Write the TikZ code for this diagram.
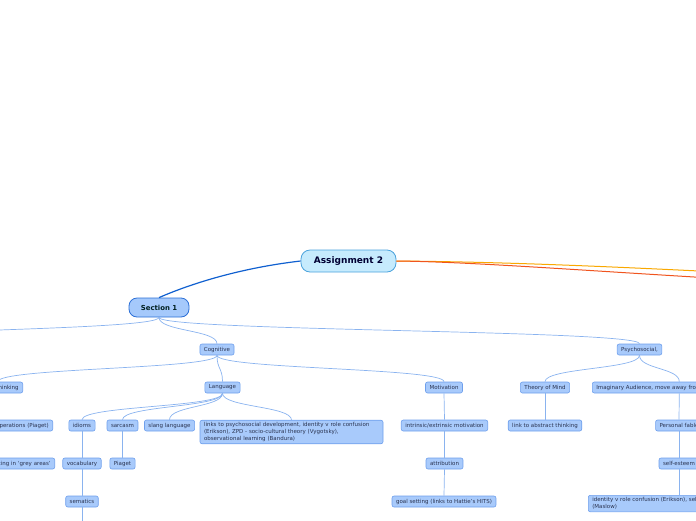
\documentclass[tikz,border=0pt]{standalone}
\usepackage{fontspec}
\setmainfont{DejaVu Sans}
\usetikzlibrary{positioning}
\definecolor{boxfill}{HTML}{A8CAFB}
\definecolor{boxline}{HTML}{6E9FEC}
\definecolor{linkcol}{HTML}{8AB3EF}
\definecolor{txtcol}{HTML}{2A3350}
\definecolor{secfill}{HTML}{A5C9FB}
\definecolor{secline}{HTML}{2B6FD6}
\definecolor{rootfill}{HTML}{C6EBFD}
\definecolor{rootline}{HTML}{4AA2DC}
\definecolor{mainlink}{HTML}{1060D0}
\definecolor{orangelink}{HTML}{F9A800}
\definecolor{redlink}{HTML}{F0541E}
\tikzset{
  topic/.style={draw=boxline, fill=boxfill, rounded corners=2pt, line width=0.6pt,
    font=\fontsize{5.5}{6.6}\selectfont, text=txtcol, inner xsep=4pt, inner ysep=0pt,
    minimum height=11pt},
  bigtopic/.style={topic, inner ysep=2.5pt, align=left},
  link/.style={draw=linkcol, line width=0.7pt},
}
\newcommand{\branch}[2]{\draw[link] (#1.south) .. controls +(0,14) and +(0,-14) .. (#2.north);}
\begin{document}
\begin{tikzpicture}[x=1pt, y=-1pt]
  \useasboundingbox (0,0) rectangle (696,520);
  \clip (0,0) rectangle (696,520);
  % central topic and first level
  \node[draw=rootline, fill=rootfill, rounded corners=9pt, line width=0.8pt,
    font=\fontsize{9}{10}\bfseries, text=black!80!blue, minimum width=95pt,
    minimum height=22pt] (root) at (348.5,261) {Assignment 2};
  \node[draw=secline, fill=secfill, rounded corners=8pt, line width=0.8pt,
    font=\fontsize{6.9}{8}\bfseries, text=black!75!teal, minimum width=60pt,
    minimum height=19pt] (sec) at (159,307.5) {Section 1};
  \coordinate (secleft) at (-200,344);
  \coordinate (orangeend) at (780,275);
  \coordinate (redend) at (780,282);
  \coordinate (below) at (82,540);
  \draw[mainlink, line width=1.2pt] (root.west) .. controls (240,268) and (190,284) .. (sec.north);
  \draw[orangelink, line width=1pt] (root.east) .. controls (520,262) and (640,268) .. (orangeend);
  \draw[redlink, line width=1pt] (root.east) .. controls (480,262) and (600,272) .. (redend);
  % second level
  \node[topic] (cog) at (217,349.5) {Cognitive};
  \node[topic] (psy) at (639.5,349.5) {Psychosocial,};
  % cognitive
  \node[topic, anchor=east, text width=42pt, align=right] (think) at (23,387.5) {thinking};
  \node[topic] (lang) at (222.5,387.5) {Language};
  \node[topic] (motiv) at (444,387.5) {Motivation};
  \node[topic, anchor=east, text width=112pt, align=right] (ops) at (53,425.5) {operations (Piaget)};
  \node[topic, anchor=east, text width=116pt, align=right] (grey) at (55,463.5) {cing in `grey areas'};
  \node[topic] (idioms) at (82,425.5) {idioms};
  \node[topic] (sarc) at (122.5,425.5) {sarcasm};
  \node[topic] (slang) at (169.5,425.5) {slang language};
  \node[bigtopic, text width=175pt] (links) at (291.5,432) {links to psychosocial development, identity v role confusion\\(Erikson), ZPD - socio-cultural theory (Vygotsky),\\observational learning (Bandura)};
  \node[topic] (vocab) at (82,463.5) {vocabulary};
  \node[topic] (sem) at (82,501.5) {sematics};
  \node[topic] (piaget) at (122.5,463.5) {Piaget};
  \node[topic] (intr) at (444.5,425.5) {intrinsic/extrinsic motivation};
  \node[topic] (attr) at (444.5,463.5) {attribution};
  \node[topic] (goal) at (444,501.5) {goal setting (links to Hattie's HITS)};
  % psychosocial
  \node[topic] (tom) at (545,387.5) {Theory of Mind};
  \node[topic, anchor=west, text width=166pt, align=left] (imag) at (592,387.5) {Imaginary Audience, move away from};
  \node[topic] (abstr) at (545,425.5) {link to abstract thinking};
  \node[topic] (fable) at (679,425.5) {Personal fable};
  \node[topic] (esteem) at (679,463.5) {self-esteem};
  \node[bigtopic, anchor=north west, text width=174pt] (ident) at (588,495) {identity v role confusion (Erikson), self-esteem\\(Maslow)};
  % connectors
  \draw[link] (sec.south) .. controls +(0,14) and +(0,-14) .. (secleft);
  \foreach \a/\b in {sec/cog, sec/psy, cog/think, cog/lang, cog/motiv, think/ops, ops/grey,
      lang/idioms, lang/sarc, lang/slang, lang/links, idioms/vocab, vocab/sem, sarc/piaget,
      motiv/intr, intr/attr, attr/goal, psy/tom, psy/imag, tom/abstr, imag/fable,
      fable/esteem}
    \branch{\a}{\b}
  \draw[link] (esteem.south) -- (esteem.south |- ident.north);
  \draw[link] (sem.south) -- (below);
\end{tikzpicture}
\end{document}
